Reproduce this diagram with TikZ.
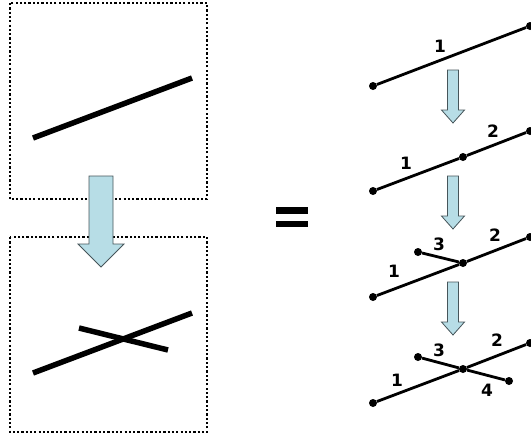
\documentclass[tikz,border=0pt]{standalone}
\usepackage{fontspec}
\setmainfont{DejaVu Sans}
\begin{document}
\begin{tikzpicture}[x=1pt,y=-1pt,
  dotbox/.style={line width=2.4pt,dash pattern=on 2.2pt off 2.1pt},
  thick line/.style={line width=5.5pt},
  thin line/.style={line width=2.8pt},
  arrowfill/.style={fill={rgb,255:red,183;green,221;blue,230},draw={rgb,255:red,70;green,85;blue,90},line width=0.8pt},
  pt/.style={circle,fill=black,inner sep=0pt,minimum size=8pt},
  num/.style={font=\fontsize{17}{19}\selectfont\bfseries,inner sep=0pt},
  pics/blockarrow/.style n args={4}{code={
    \filldraw[arrowfill] (-#1,0) -- (#1,0) -- (#1,#3-#4) -- (#2,#3-#4) -- (0,#3)
      -- (-#2,#3-#4) -- (-#1,#3-#4) -- cycle;}}
]
\useasboundingbox (0,0) rectangle (531,440);
% left boxes
\draw[dotbox] (10,3) rectangle (207,199);
\draw[dotbox] (10,237) rectangle (207,432);
\coordinate (a1) at (33,138); \coordinate (a2) at (192,78);
\draw[thick line] (a1) -- (a2);
\coordinate (b1) at (33,373); \coordinate (b2) at (192,313);
\coordinate (b3) at (79,328); \coordinate (b4) at (168,350);
\draw[thick line] (b1) -- (b2);
\draw[thick line] (b3) -- (b4);
\pic at (101,176) {blockarrow={12}{23}{91}{23}};
% equals
\fill (276,207) rectangle (308,214);
\fill (276,221) rectangle (308,227);
% right rows
% row 1
\node[pt] (r1a) at (373,86) {};
\node[pt] (r1b) at (530,26) {};
\draw[thin line] (r1a) -- (r1b);
\node[num] (l11) at (440,46) {1};
% row 2
\node[pt] (r2a) at (373,191) {};
\node[pt] (r2m) at (463,157) {};
\node[pt] (r2b) at (530,131) {};
\draw[thin line] (r2a) -- (r2m) -- (r2b);
\node[num] (l21) at (406,163) {1};
\node[num] (l22) at (493,131) {2};
% row 3
\node[pt] (r3a) at (373,297) {};
\node[pt] (r3m) at (463,263) {};
\node[pt] (r3b) at (530,237) {};
\node[pt] (r3c) at (418,252) {};
\draw[thin line] (r3a) -- (r3m) -- (r3b);
\draw[thin line] (r3c) -- (r3m);
\node[num] (l31) at (394,271) {1};
\node[num] (l32) at (495,235) {2};
\node[num] (l33) at (439,244) {3};
% row 4
\node[pt] (r4a) at (373,403) {};
\node[pt] (r4m) at (463,369) {};
\node[pt] (r4b) at (530,343) {};
\node[pt] (r4c) at (418,357) {};
\node[pt] (r4d) at (509,381) {};
\draw[thin line] (r4a) -- (r4m) -- (r4b);
\draw[thin line] (r4c) -- (r4m) -- (r4d);
\node[num] (l41) at (397,380) {1};
\node[num] (l42) at (497,340) {2};
\node[num] (l43) at (439,350) {3};
\node[num] (l44) at (487,390) {4};
% small arrows
\pic at (453,70) {blockarrow={5.5}{11.5}{53}{13}};
\pic at (453,176) {blockarrow={5.5}{11.5}{53}{13}};
\pic at (453,282) {blockarrow={5.5}{11.5}{53}{13}};
\end{tikzpicture}
\end{document}
